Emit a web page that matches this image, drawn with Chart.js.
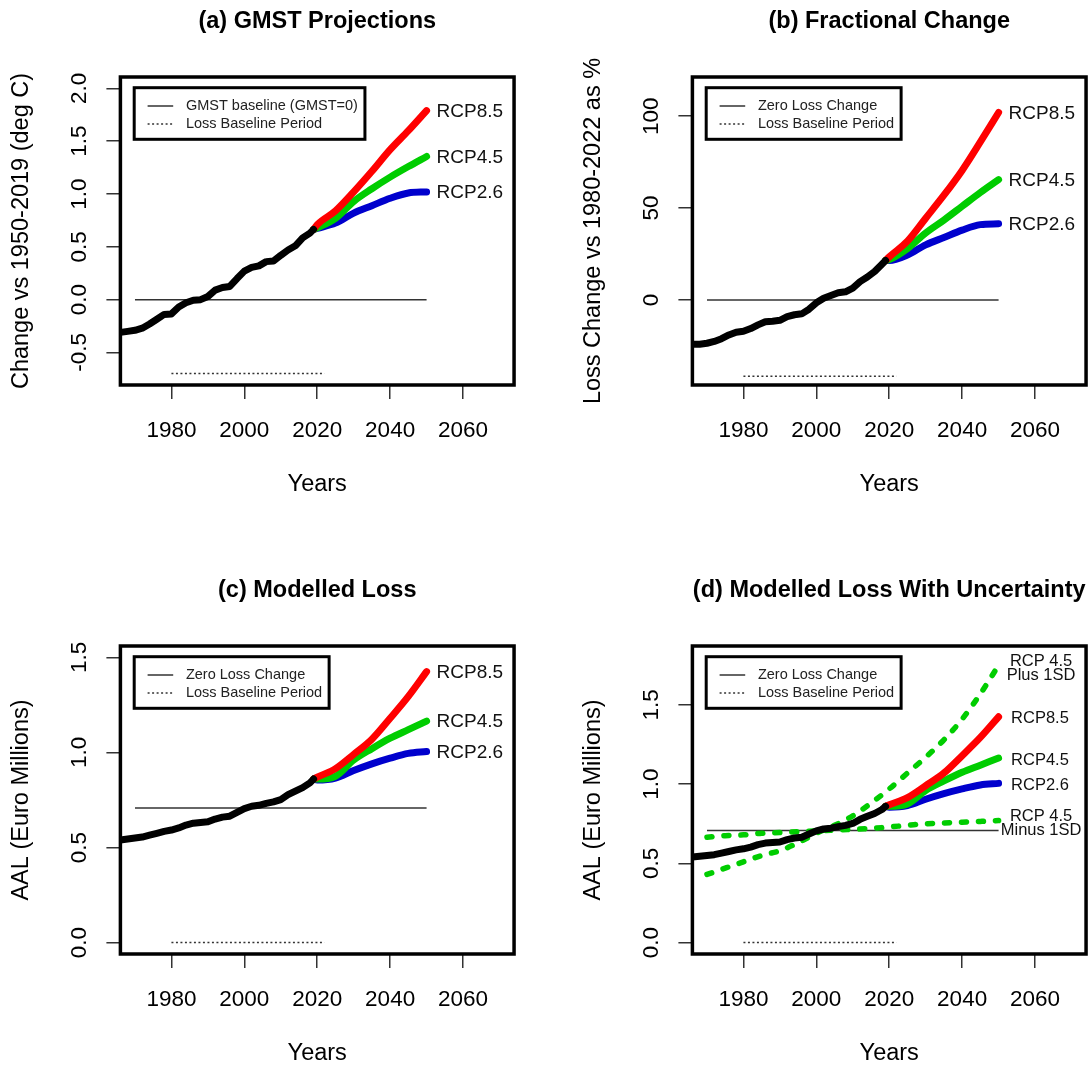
<!DOCTYPE html>
<html>
<head>
<meta charset="utf-8">
<title>Climate loss projections</title>
<script src="https://cdn.jsdelivr.net/npm/chart.js@4/dist/chart.umd.min.js"></script>
<style>
  html, body { margin: 0; padding: 0; background: #fff; }
  body { width: 1088px; height: 1068px; position: relative; overflow: hidden; }
  canvas { position: absolute; }
</style>
</head>
<body>
<canvas id="panelA" width="516" height="499" style="left:0px;top:0px"></canvas>
<canvas id="panelB" width="516" height="499" style="left:572px;top:0px"></canvas>
<canvas id="panelC" width="516" height="499" style="left:0px;top:569px"></canvas>
<canvas id="panelD" width="516" height="499" style="left:572px;top:569px"></canvas>
<script>
// ---------- data ----------
const xTicks = [1980, 2000, 2020, 2040, 2060];
const xTickLabels = ['1980', '2000', '2020', '2040', '2060'];

const histYears = [1966, 1968, 1970, 1972, 1974, 1976, 1978, 1980, 1982, 1984, 1986, 1988, 1990, 1992,
                   1994, 1996, 1998, 2000, 2002, 2004, 2006, 2008, 2010, 2012, 2014, 2016, 2018, 2019];
const projYears = [2019, 2020, 2025, 2030, 2035, 2040, 2045, 2050];
const sdYears = [1970, 1975, 1980, 1985, 1990, 1995, 2000, 2005, 2010, 2015, 2020, 2025, 2030, 2035, 2040, 2045, 2050];
const zeroLineYears = [1970, 2050];
const baselinePeriodYears = [1980, 2022];

// (a) GMST change vs 1950-2019, deg C
const gmstHist = [-0.31, -0.30, -0.29, -0.27, -0.23, -0.185, -0.14, -0.135, -0.07, -0.03, -0.005, 0.0, 0.03, 0.09,
                  0.115, 0.125, 0.20, 0.27, 0.305, 0.32, 0.36, 0.365, 0.42, 0.47, 0.51, 0.585, 0.63, 0.665];
const gmstRcp85 = [0.665, 0.71, 0.84, 1.02, 1.215, 1.42, 1.60, 1.79];
const gmstRcp45 = [0.665, 0.68, 0.77, 0.93, 1.05, 1.16, 1.26, 1.355];
const gmstRcp26 = [0.665, 0.675, 0.725, 0.82, 0.89, 0.96, 1.01, 1.02];
const gmstZero = 0;
const gmstBaselineLevel = -0.7;

// (b) loss change vs 1980-2022, %
const fracHist = [-24, -24, -23.5, -22.5, -21, -19, -17.5, -17, -15.5, -13.5, -11.8, -11.5, -11, -9,
                  -8, -7.5, -5, -1.5, 1, 2.5, 4, 4.5, 6.5, 10, 12.5, 15.5, 19.5, 21.5];
const fracRcp85 = [21.5, 23.5, 32, 44.5, 57, 70.5, 86, 102];
const fracRcp45 = [21.5, 22, 28, 36.5, 43.5, 51, 58.5, 65.5];
const fracRcp26 = [21.5, 21.5, 24.5, 30, 34, 38, 41, 41.5];
const fracZero = 0;
const fracBaselineLevel = -41.5;

// (c)/(d) AAL, Euro millions
const lossHist = [0.54, 0.545, 0.55, 0.555, 0.565, 0.575, 0.585, 0.592, 0.603, 0.618, 0.628, 0.632, 0.635, 0.65,
                  0.66, 0.665, 0.685, 0.705, 0.717, 0.722, 0.732, 0.74, 0.752, 0.778, 0.797, 0.815, 0.84, 0.86];
const lossRcp85 = [0.86, 0.87, 0.915, 0.99, 1.07, 1.18, 1.295, 1.425];
const lossRcp45 = [0.86, 0.86, 0.875, 0.96, 1.02, 1.075, 1.12, 1.165];
const lossRcp26 = [0.86, 0.855, 0.865, 0.905, 0.94, 0.97, 0.995, 1.005];
const lossRcp45Plus1SD = [0.43, 0.47, 0.51, 0.55, 0.58, 0.63, 0.69, 0.74, 0.80, 0.88, 0.97, 1.07, 1.17, 1.28, 1.41, 1.57, 1.75];
const lossRcp45Minus1SD = [0.665, 0.675, 0.68, 0.69, 0.695, 0.70, 0.705, 0.71, 0.715, 0.72, 0.73, 0.74, 0.75, 0.755, 0.76, 0.765, 0.77];
const lossZero = 0.708;
const lossBaselineLevel = 0;

const gmstYTicks = [-0.5, 0, 0.5, 1, 1.5, 2];
const gmstYLabels = ['-0.5', '0.0', '0.5', '1.0', '1.5', '2.0'];
const fracYTicks = [0, 50, 100];
const fracYLabels = ['0', '50', '100'];
const lossYTicks = [0, 0.5, 1, 1.5];
const lossYLabels = ['0.0', '0.5', '1.0', '1.5'];

// ---------- styling ----------
const FONT = '"Liberation Sans", Arial, Helvetica, sans-serif';
Chart.defaults.font.family = FONT;
Chart.defaults.color = '#000';
Chart.defaults.animation = false;

const RED = '#FF0000', GREEN = '#00CD00', BLUE = '#0000CD', BLACK = '#000000', REF = '#333333';
const CHART_LEFT = 120.4, CHART_TOP = 77, CHART_BOTTOM = 385;
const CANVAS_W = 516, CANVAS_H = 499;
const CHART_RIGHT = CHART_LEFT + 108 * 3.645;
const TICK_LEN = 14, TICK_SIZE = 22.5, AXIS_TITLE_SIZE = 23.5, TITLE_SIZE = 23.5;
const Y_LABEL_CENTER = 41;

const measureCtx = document.createElement('canvas').getContext('2d');
function textWidth(t, size) {
  measureCtx.font = `normal ${size}px ${FONT}`;
  return measureCtx.measureText(t).width;
}
function pts(xs, ys) { return xs.map((x, i) => ({ x, y: ys[i] })); }
function flat(xs, level) { return xs.map(x => ({ x, y: level })); }

function series(label, xs, ys, color, width, smooth) {
  const ds = { label, data: pts(xs, ys), borderColor: color, backgroundColor: color, borderWidth: width || 7,
               pointRadius: 0, borderCapStyle: 'round', borderJoinStyle: 'round', tension: 0, clip: 0, fill: false };
  if (smooth) ds.cubicInterpolationMode = 'monotone';
  return ds;
}

// box around the plot region, inset legend and end-of-line labels
const decorPlugin = {
  id: 'panelDecor',
  afterDatasetsDraw(chart, args, opts) {
    const { ctx, chartArea: a, scales } = chart;
    const xs = scales.x, ys = scales.y;
    ctx.save();

    // end labels
    ctx.fillStyle = '#111';
    ctx.textBaseline = 'middle';
    for (const lab of opts.endLabels) {
      ctx.font = `normal ${lab.size}px ${FONT}`;
      ctx.textAlign = lab.align || 'left';
      const px = xs.getPixelForValue(lab.x) + lab.dx;
      const py = ys.getPixelForValue(lab.y) + (lab.dy || 0);
      const lines = lab.text.split('\n');
      const lh = lab.lineGap || lab.size;
      lines.forEach((ln, i) => {
        ctx.fillText(ln, px, py + (i - (lines.length - 1) / 2) * lh);
      });
    }

    // legend
    const lx = a.left + 13.8, ly = a.top + 10.7;
    ctx.font = `normal 14.5px ${FONT}`;
    const textX = a.left + 65.5;
    const tw = Math.max(...opts.legend.map(t => ctx.measureText(t).width));
    ctx.lineWidth = 3;
    ctx.strokeStyle = '#000';
    ctx.strokeRect(lx, ly, textX + tw + 7 - lx, 51.6);
    const rows = [a.top + 29, a.top + 47];
    ctx.lineWidth = 1.5;
    ctx.strokeStyle = REF;
    ctx.beginPath(); ctx.moveTo(a.left + 27.2, rows[0]); ctx.lineTo(a.left + 52.8, rows[0]); ctx.stroke();
    ctx.setLineDash([2, 2.5]);
    ctx.beginPath(); ctx.moveTo(a.left + 27.2, rows[1]); ctx.lineTo(a.left + 52.8, rows[1]); ctx.stroke();
    ctx.setLineDash([]);
    ctx.fillStyle = '#222';
    ctx.textAlign = 'left';
    opts.legend.forEach((t, i) => ctx.fillText(t, textX, rows[i]));

    // plot box
    ctx.lineWidth = 3.5;
    ctx.strokeStyle = '#000';
    ctx.strokeRect(a.left, a.top, a.right - a.left, a.bottom - a.top);
    ctx.restore();
  }
};

function makePanel(id, p) {
  const widest = Math.max(...p.yLabels.map(t => textWidth(t, TICK_SIZE)));
  const datasets = [
    series('Observed', histYears, p.hist, BLACK),
    series('RCP8.5', projYears, p.rcp85, RED, 7, true),
    series('RCP4.5', projYears, p.rcp45, GREEN, 7, true),
    series('RCP2.6', projYears, p.rcp26, BLUE, 7, true)
  ];
  if (p.plus) {
    datasets.push(Object.assign(series('RCP 4.5 Plus 1SD', sdYears, p.plus, GREEN, 5.5, true), { borderDash: [5, 12] }));
    datasets.push(Object.assign(series('RCP 4.5 Minus 1SD', sdYears, p.minus, GREEN, 5.5, true), { borderDash: [5, 12] }));
  }
  datasets.push({ label: p.legend[0], data: flat(zeroLineYears, p.zero), borderColor: REF, borderWidth: 1.5,
                  pointRadius: 0, clip: 0 });
  datasets.push({ label: p.legend[1], data: flat(baselinePeriodYears, p.baseLevel), borderColor: REF, borderWidth: 1.5,
                  borderDash: [2, 2.5], pointRadius: 0, clip: 0 });

  return new Chart(document.getElementById(id), {
    type: 'line',
    data: { datasets },
    plugins: [decorPlugin],
    options: {
      responsive: false,
      animation: false,
      events: [],
      layout: { padding: { left: 0, top: 0, bottom: 0, right: CANVAS_W - CHART_RIGHT } },
      scales: {
        x: {
          type: 'linear', position: 'bottom', min: 1966, max: 2074,
          afterBuildTicks: s => { s.ticks = xTicks.map(v => ({ value: v })); },
          afterFit: s => { s.height = CANVAS_H - CHART_BOTTOM; },
          ticks: { autoSkip: false, maxRotation: 0, padding: 18.5, font: { size: TICK_SIZE }, color: '#000',
                   callback: (v, i) => xTickLabels[i] },
          grid: { drawOnChartArea: false, drawTicks: true, tickLength: TICK_LEN, color: REF, lineWidth: 1.5 },
          border: { display: false },
          title: { display: true, text: 'Years', font: { size: AXIS_TITLE_SIZE }, color: '#000',
                   padding: { top: 0, bottom: 0 } }
        },
        y: {
          type: 'linear', position: 'left', min: p.yMin, max: p.yMax,
          afterBuildTicks: s => { s.ticks = p.yTicks.map(v => ({ value: v })); },
          afterFit: s => { s.width = CHART_LEFT; },
          ticks: { autoSkip: false, minRotation: 90, maxRotation: 90, crossAlign: 'center',
                   padding: Y_LABEL_CENTER - TICK_LEN - widest / 2, font: { size: TICK_SIZE }, color: '#000',
                   callback: (v, i) => p.yLabels[i] },
          grid: { drawOnChartArea: false, drawTicks: true, tickLength: TICK_LEN, color: REF, lineWidth: 1.5 },
          border: { display: false },
          title: { display: true, text: p.yTitle, font: { size: AXIS_TITLE_SIZE }, color: '#000',
                   padding: { top: 7.9, bottom: 0 } }
        }
      },
      plugins: {
        legend: { display: false },
        tooltip: { enabled: false },
        title: { display: true, text: p.title, fullSize: false, color: '#000',
                 font: { size: TITLE_SIZE, weight: 'bold' }, padding: { top: 7.5, bottom: 41.3 } },
        panelDecor: { legend: p.legend, endLabels: p.endLabels }
      }
    }
  });
}

function rcpLabels(r85, r45, r26, size, dx, dy) {
  return [
    { text: 'RCP8.5', x: 2050, y: r85[r85.length - 1], size, dx, dy },
    { text: 'RCP4.5', x: 2050, y: r45[r45.length - 1], size, dx, dy },
    { text: 'RCP2.6', x: 2050, y: r26[r26.length - 1], size, dx, dy }
  ];
}

makePanel('panelA', {
  title: '(a) GMST Projections', yTitle: 'Change vs 1950-2019 (deg C)',
  hist: gmstHist, rcp85: gmstRcp85, rcp45: gmstRcp45, rcp26: gmstRcp26,
  zero: gmstZero, baseLevel: gmstBaselineLevel,
  yMin: -0.808, yMax: 2.108, yTicks: gmstYTicks, yLabels: gmstYLabels,
  legend: ['GMST baseline (GMST=0)', 'Loss Baseline Period'],
  endLabels: rcpLabels(gmstRcp85, gmstRcp45, gmstRcp26, 19, 10, 1)
});

makePanel('panelB', {
  title: '(b) Fractional Change', yTitle: 'Loss Change vs 1980-2022 as %',
  hist: fracHist, rcp85: fracRcp85, rcp45: fracRcp45, rcp26: fracRcp26,
  zero: fracZero, baseLevel: fracBaselineLevel,
  yMin: -46.2, yMax: 121.3, yTicks: fracYTicks, yLabels: fracYLabels,
  legend: ['Zero Loss Change', 'Loss Baseline Period'],
  endLabels: rcpLabels(fracRcp85, fracRcp45, fracRcp26, 19, 10, 1)
});

makePanel('panelC', {
  title: '(c) Modelled Loss', yTitle: 'AAL (Euro Millions)',
  hist: lossHist, rcp85: lossRcp85, rcp45: lossRcp45, rcp26: lossRcp26,
  zero: lossZero, baseLevel: lossBaselineLevel,
  yMin: -0.06, yMax: 1.56, yTicks: lossYTicks, yLabels: lossYLabels,
  legend: ['Zero Loss Change', 'Loss Baseline Period'],
  endLabels: rcpLabels(lossRcp85, lossRcp45, lossRcp26, 19, 10, 1)
});

makePanel('panelD', {
  title: '(d) Modelled Loss With Uncertainty', yTitle: 'AAL (Euro Millions)',
  hist: lossHist, rcp85: lossRcp85, rcp45: lossRcp45, rcp26: lossRcp26,
  plus: lossRcp45Plus1SD, minus: lossRcp45Minus1SD,
  zero: lossZero, baseLevel: lossBaselineLevel,
  yMin: -0.072, yMax: 1.872, yTicks: lossYTicks, yLabels: lossYLabels,
  legend: ['Zero Loss Change', 'Loss Baseline Period'],
  endLabels: rcpLabels(lossRcp85, lossRcp45, lossRcp26, 16.5, 12.5, 2).concat([
    { text: 'RCP 4.5\nPlus 1SD', x: 2050, y: lossRcp45Plus1SD[lossRcp45Plus1SD.length - 1],
      size: 16.5, dx: 42.5, dy: 3, align: 'center', lineGap: 14 },
    { text: 'RCP 4.5\nMinus 1SD', x: 2050, y: lossRcp45Minus1SD[lossRcp45Minus1SD.length - 1],
      size: 16.5, dx: 42.5, dy: 3, align: 'center', lineGap: 14 }
  ])
});
</script>
</body>
</html>
